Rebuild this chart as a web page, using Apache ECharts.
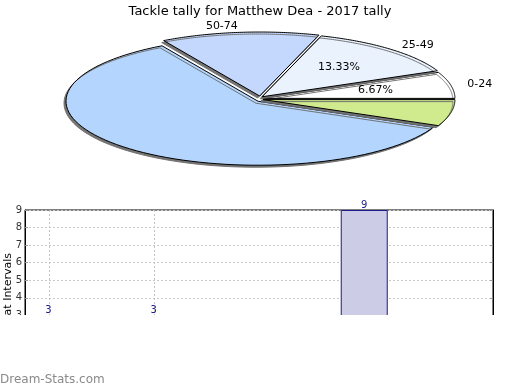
<!DOCTYPE html>
<html>
<head>
<meta charset="utf-8">
<script src="https://cdn.jsdelivr.net/npm/echarts@6/dist/echarts.min.js"></script>
<style>html,body{margin:0;padding:0;background:#fff}#c{width:520px;height:390px}</style>
</head>
<body>
<div id="c"></div>
<script>
// ---- data ----
const chartTitle = 'Tackle tally for Matthew Dea - 2017 tally';
const sliceNames = ['0-24', '25-49', '50-74', '75-99', '100+'];
const sliceValues = [1, 2, 2, 9, 1];
const sliceShowName = [true, true, true, false, false];
const sliceShowPct = [true, true, false, false, false];
const barCategories = ['0-24', '25-49', '50-74', '75-99', '100+'];
const barValues = [3, 3, 2, 9, 1];
const dropLineIdx = [0, 1];
const yTicks = [0, 1, 2, 3, 4, 5, 6, 7, 8, 9];
const yAxisName = 'Tackles at Intervals';
const footer = 'Dream-Stats.com';

// ---- styles / layout ----
const sliceColors = ['#ffffff', '#eaf2fe', '#c4d8fd', '#b4d5fd', '#cfeb8e'];
const PIE = {cx: 260, cy: 99, rx: 192, ry: 64, explode: 3, lrx: 212, lry: 73, prx: 118, pry: 43};
const FONT = 'DejaVu Sans';

const total = sliceValues.reduce((a, b) => a + b, 0);
const yMin = yTicks[0], yMax = yTicks[yTicks.length - 1];

function renderSlice(params, api) {
  const i = params.dataIndex;
  const v = api.value(0);
  let start = 0;
  for (let k = 0; k < i; k++) start += sliceValues[k];
  const a0 = start / total * Math.PI * 2;
  const a1 = (start + v) / total * Math.PI * 2;
  const mid = (a0 + a1) / 2;
  const ox = PIE.cx + PIE.explode * Math.cos(mid);
  const oy = PIE.cy - PIE.explode * Math.sin(mid);
  const pts = [[ox, oy]];
  const N = 80;
  for (let s = 0; s <= N; s++) {
    const t = a0 + (a1 - a0) * s / N;
    pts.push([ox + PIE.rx * Math.cos(t), oy - PIE.ry * Math.sin(t)]);
  }
  const children = [{
    type: 'polygon',
    shape: {points: pts},
    style: {fill: sliceColors[i], stroke: '#000', lineWidth: 1,
      shadowColor: 'rgba(110,110,110,0.95)', shadowBlur: 0.5, shadowOffsetX: -2, shadowOffsetY: 2}
  }];
  if (sliceShowName[i]) {
    const c = Math.cos(mid);
    const al = c >= 0 ? 'left' : 'right';
    children.push({
      type: 'text', z2: 10,
      style: {x: PIE.cx + PIE.lrx * c, y: PIE.cy - PIE.lry * Math.sin(mid),
        text: sliceNames[i], fill: '#000', font: '11px ' + FONT,
        align: al, verticalAlign: 'middle', textAlign: al, textVerticalAlign: 'middle'}
    });
  }
  if (sliceShowPct[i]) {
    children.push({
      type: 'text', z2: 10,
      style: {x: PIE.cx + PIE.prx * Math.cos(mid), y: PIE.cy - PIE.pry * Math.sin(mid),
        text: (v / total * 100).toFixed(2) + '%', fill: '#000', font: '11px ' + FONT,
        align: 'center', verticalAlign: 'middle', textAlign: 'center', textVerticalAlign: 'middle'}
    });
  }
  return {type: 'group', children: children};
}

function renderDrop(params, api) {
  const x = api.value(0);
  const p0 = api.coord([x, yMin]);
  const p1 = api.coord([x, yMax]);
  return {
    type: 'line',
    shape: {x1: Math.round(p0[0]) + 0.5, y1: p0[1], x2: Math.round(p1[0]) + 0.5, y2: p1[1]},
    style: {stroke: '#c4c4c4', lineWidth: 1, lineDash: [2, 2]}
  };
}

const chart = echarts.init(document.getElementById('c'), null, {renderer: 'canvas'});
chart.setOption({
  animation: false,
  backgroundColor: '#fff',
  textStyle: {fontFamily: FONT},
  title: {text: chartTitle, left: 'center', top: 0,
    textStyle: {fontSize: 13, fontWeight: 'normal', color: '#000', fontFamily: FONT}},
  grid: {left: 25, right: 27, top: 210, bottom: 22, show: true, borderColor: '#000', borderWidth: 1, backgroundColor: 'transparent'},
  xAxis: {type: 'value', min: -0.2235, max: barCategories.length - 1 + 0.2235, show: false},
  yAxis: [{
    type: 'value', min: yMin, max: yMax, interval: 1, position: 'left',
    axisLine: {show: true, onZero: false, lineStyle: {color: '#000'}},
    axisTick: {show: true, inside: true, length: 3, lineStyle: {color: '#999'}},
    axisLabel: {fontSize: 10, color: '#333', margin: 3, fontFamily: FONT},
    splitLine: {show: true, lineStyle: {color: '#c8c8c8', type: [2, 2]}}
  }, {
    type: 'value', min: yMin, max: yMax, interval: 1, position: 'right',
    axisLine: {show: true, onZero: false, lineStyle: {color: '#000'}},
    axisTick: {show: true, inside: true, length: 3, lineStyle: {color: '#999'}},
    axisLabel: {show: false}, splitLine: {show: false}
  }],
  series: [{
    type: 'custom',
    coordinateSystem: 'none',
    renderItem: renderSlice,
    data: sliceValues.map((v, i) => [v, i]),
    silent: true
  }, {
    type: 'custom',
    coordinateSystem: 'cartesian2d',
    renderItem: renderDrop,
    encode: {x: 0, y: 1},
    data: dropLineIdx.map(i => [i, yMax]),
    silent: true,
    z: 1
  }, {
    type: 'bar',
    data: barValues.map((v, i) => [i, v]),
    barWidth: 47,
    itemStyle: {color: '#ccccE6', borderColor: '#1c1c8a', borderWidth: 1},
    label: {show: true, position: 'top', distance: 0, color: '#1c1c8a', fontSize: 10, fontFamily: FONT},
    z: 3
  }],
  graphic: [{
    type: 'text', x: 8, y: 253, rotation: Math.PI / 2, z: 50,
    style: {text: yAxisName, fill: '#000', font: '11px ' + FONT,
      align: 'right', verticalAlign: 'middle', textAlign: 'right', textVerticalAlign: 'middle'}
  }, {
    type: 'rect', z: 100, shape: {x: 0, y: 315, width: 520, height: 75}, style: {fill: '#fff'}
  }, {
    type: 'text', x: 0, y: 380, z: 101,
    style: {text: footer, fill: '#8a8a8a', font: '12px ' + FONT, verticalAlign: 'middle', textVerticalAlign: 'middle'}
  }]
});
</script>
</body>
</html>
